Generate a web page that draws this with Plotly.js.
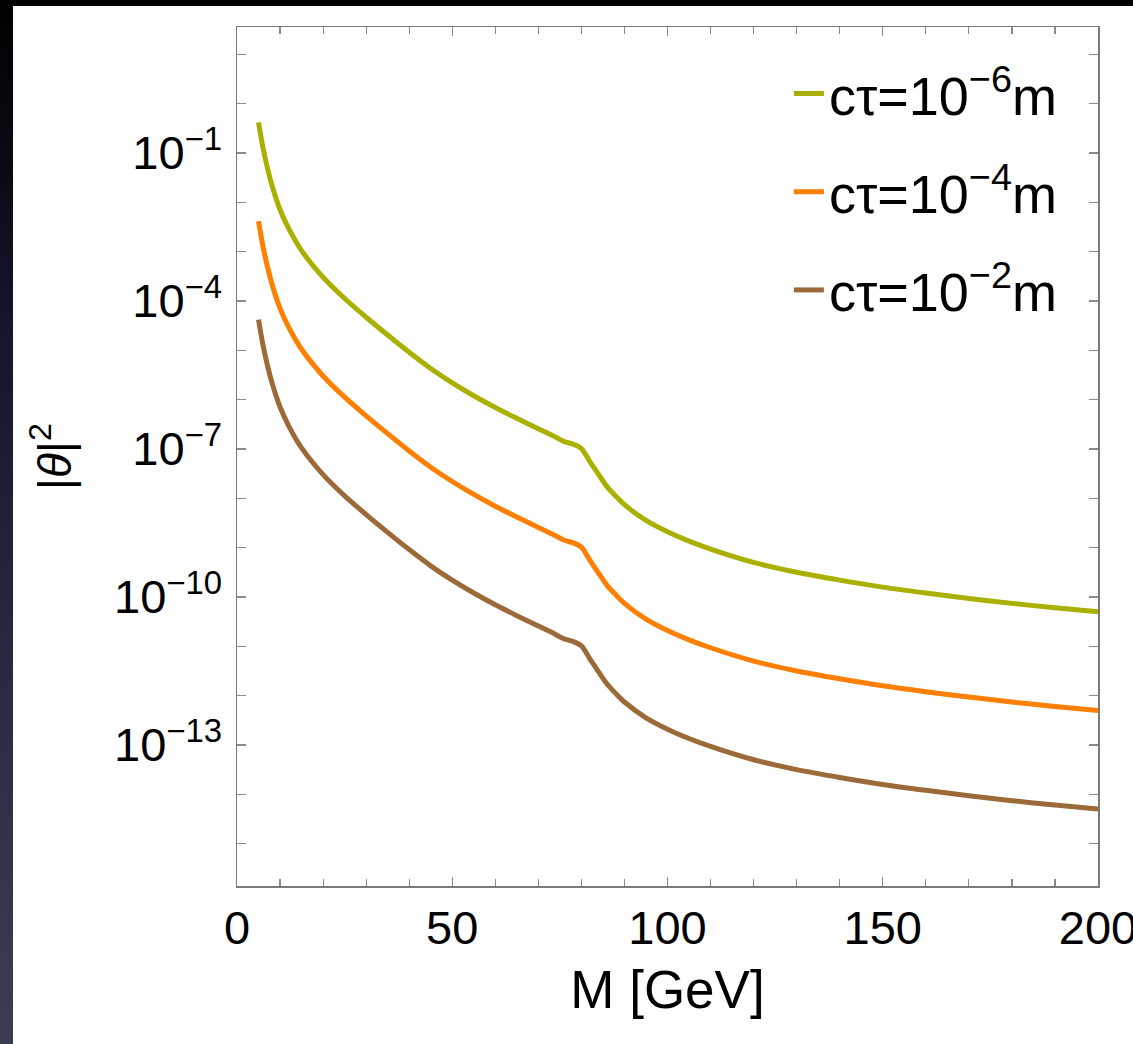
<!DOCTYPE html>
<html>
<head>
<meta charset="utf-8">
<script src="https://cdn.plot.ly/plotly-3.0.1.min.js"></script>
<style>
  html, body { margin: 0; padding: 0; width: 1133px; height: 1044px; overflow: hidden;
    background: linear-gradient(to bottom, #000000 0%, #14142a 30%, #2c2c44 70%, #3c3c52 100%); }
  #chart { position: absolute; left: 13px; top: 6px; width: 1120px; height: 1038px; background: #ffffff; }
</style>
</head>
<body>
<div id="chart"></div>
<script>
// Heavy neutral lepton mass M [GeV]
const massGeV = [5, 6, 7, 8, 10, 12, 15, 20, 25, 30, 35, 40, 45, 50, 55, 60, 65, 70, 74, 76, 78, 80,
  82, 84, 86, 88, 90, 95, 100, 105, 110, 120, 130, 140, 150, 160, 170, 180, 190, 200];

// |theta|^2 for c*tau = 1e-6 m
const theta2_ct1em6 = [4.17e-1, 1.32e-1, 5.25e-2, 2.40e-2, 7.08e-3, 2.95e-3, 1.05e-3, 3.02e-4, 1.12e-4,
  4.68e-5, 2.04e-5, 9.12e-6, 4.27e-6, 2.19e-6, 1.20e-6, 6.92e-7, 4.17e-7, 2.57e-7, 1.74e-7, 1.41e-7,
  1.26e-7, 1.02e-7, 5.50e-8, 3.02e-8, 1.70e-8, 1.10e-8, 7.41e-9, 3.55e-9, 2.09e-9, 1.35e-9, 9.33e-10,
  5.01e-10, 3.16e-10, 2.19e-10, 1.58e-10, 1.20e-10, 9.33e-11, 7.41e-11, 6.03e-11, 5.01e-11];

// |theta|^2 for c*tau = 1e-4 m
const theta2_ct1em4 = [4.17e-3, 1.32e-3, 5.25e-4, 2.40e-4, 7.08e-5, 2.95e-5, 1.05e-5, 3.02e-6, 1.12e-6,
  4.68e-7, 2.04e-7, 9.12e-8, 4.27e-8, 2.19e-8, 1.20e-8, 6.92e-9, 4.17e-9, 2.57e-9, 1.74e-9, 1.41e-9,
  1.26e-9, 1.02e-9, 5.50e-10, 3.02e-10, 1.70e-10, 1.10e-10, 7.41e-11, 3.55e-11, 2.09e-11, 1.35e-11, 9.33e-12,
  5.01e-12, 3.16e-12, 2.19e-12, 1.58e-12, 1.20e-12, 9.33e-13, 7.41e-13, 6.03e-13, 5.01e-13];

// |theta|^2 for c*tau = 1e-2 m
const theta2_ct1em2 = [4.17e-5, 1.32e-5, 5.25e-6, 2.40e-6, 7.08e-7, 2.95e-7, 1.05e-7, 3.02e-8, 1.12e-8,
  4.68e-9, 2.04e-9, 9.12e-10, 4.27e-10, 2.19e-10, 1.20e-10, 6.92e-11, 4.17e-11, 2.57e-11, 1.74e-11, 1.41e-11,
  1.26e-11, 1.02e-11, 5.50e-12, 3.02e-12, 1.70e-12, 1.10e-12, 7.41e-13, 3.55e-13, 2.09e-13, 1.35e-13, 9.33e-14,
  5.01e-14, 3.16e-14, 2.19e-14, 1.58e-14, 1.20e-14, 9.33e-15, 7.41e-15, 6.03e-15, 5.01e-15];

const seriesNames = ["cτ=10<sup>−6</sup>m", "cτ=10<sup>−4</sup>m", "cτ=10<sup>−2</sup>m"];
const seriesColors = ["#A9B000", "#FF7F00", "#9C6A38"];

// y-axis decade ticks and their labels
const yTickVals = [10, 1, 1e-1, 1e-2, 1e-3, 1e-4, 1e-5, 1e-6, 1e-7, 1e-8, 1e-9, 1e-10, 1e-11, 1e-12, 1e-13, 1e-14, 1e-15];
const yTickText = ["", "", "10<sup>−1</sup>", "", "", "10<sup>−4</sup>", "", "", "10<sup>−7</sup>", "", "",
  "10<sup>−10</sup>", "", "", "10<sup>−13</sup>", "", ""];
const xTickVals = [0, 50, 100, 150, 200];
const xTickText = ["0", "50", "100", "150", "200"];

const seriesY = [theta2_ct1em6, theta2_ct1em4, theta2_ct1em2];
const traces = seriesY.map((yy, i) => ({
  x: massGeV, y: yy, type: "scatter", mode: "lines",
  name: seriesNames[i], legendgroup: "g" + i,
  line: { color: seriesColors[i], width: 5, shape: "spline", smoothing: 0.8 }
}));

const FONT = "Liberation Sans, Arial, Helvetica, sans-serif";
const axisCommon = {
  showline: true, linecolor: "#7a7a7a", linewidth: 1.5, mirror: "allticks",
  ticks: "inside", tickcolor: "#8a8a8a", tickwidth: 1.2, ticklen: 9,
  showgrid: false, zeroline: false, ticklabeloverflow: "allow",
  tickfont: { family: FONT, size: 47, color: "#000" }
};

const layout = {
  width: 1120, height: 1038,
  paper_bgcolor: "#ffffff", plot_bgcolor: "#ffffff",
  margin: { l: 224, r: 35, t: 21, b: 158 },
  showlegend: true,
  legend: {
    x: 0.641, y: 0.971, xanchor: "left", yanchor: "top",
    bgcolor: "rgba(0,0,0,0)", borderwidth: 0,
    font: { family: FONT, size: 54, color: "#000" },
    traceorder: "grouped", tracegroupgap: 25
  },
  xaxis: Object.assign({}, axisCommon, {
    range: [0, 200], tickmode: "array", tickvals: xTickVals, ticktext: xTickText,
    minor: { dtick: 10, ticks: "inside", ticklen: 7, tickcolor: "#8a8a8a", tickwidth: 1.2 },
    title: { text: "M [GeV]", font: { family: FONT, size: 53, color: "#000" }, standoff: 18 }
  }),
  yaxis: Object.assign({}, axisCommon, {
    type: "log", range: [-15.86, 1.554], tickmode: "array", tickvals: yTickVals, ticktext: yTickText,
    ticklabelstandoff: 4,
    title: { text: "|<i>θ</i>|<sup>2</sup>", font: { family: FONT, size: 46, color: "#000" }, standoff: 28 }
  })
};

Plotly.newPlot("chart", traces, layout, { displayModeBar: false, staticPlot: true });
</script>
</body>
</html>
